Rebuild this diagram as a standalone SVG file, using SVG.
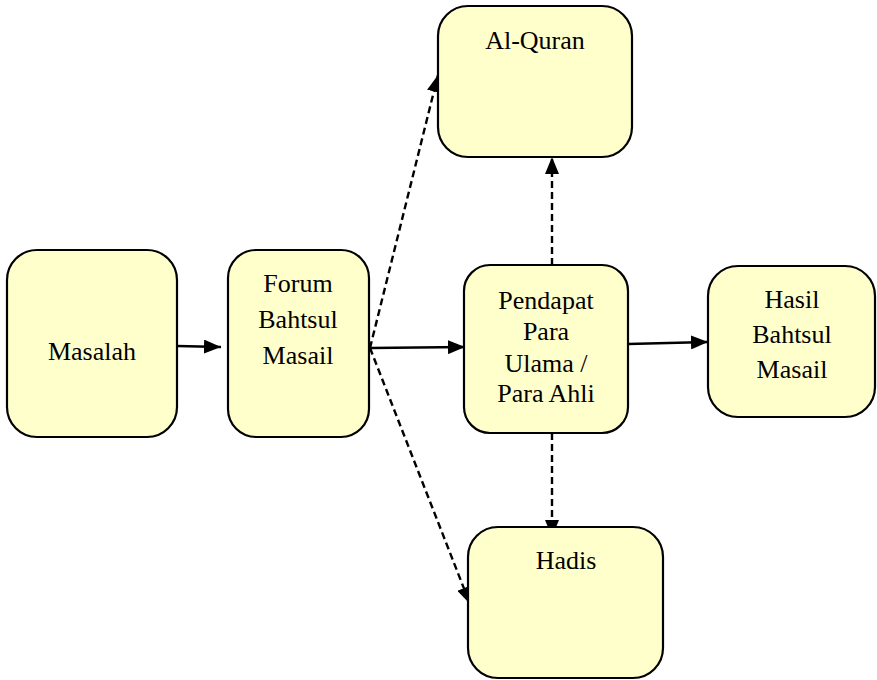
<svg xmlns="http://www.w3.org/2000/svg" width="877" height="680" viewBox="0 0 877 680">
<defs>
<style>
.box{fill:#FFFFCC;stroke:#000;stroke-width:2.2}
text{font-family:'Liberation Serif','Times New Roman',Tinos,'DejaVu Serif',serif;font-size:26px;fill:#000;text-anchor:middle}
.c{stroke:#000;stroke-width:2.4;fill:none}
.d{stroke-dasharray:7,4}
</style>
<marker id="ah" viewBox="0 0 17 14" refX="17" refY="7" markerWidth="17" markerHeight="14" markerUnits="userSpaceOnUse" orient="auto">
<path d="M0,0 L17,7 L0,14 Z" fill="#000"/>
</marker>
</defs>
<rect width="877" height="680" fill="#fff"/>
<g id="connectors">
<line class="c" x1="177" y1="346" x2="221" y2="347" marker-end="url(#ah)"/>
<line class="c" x1="370" y1="348" x2="465" y2="347" marker-end="url(#ah)"/>
<line class="c" x1="628" y1="344" x2="708" y2="342" marker-end="url(#ah)"/>
<line class="c d" x1="370" y1="348" x2="438" y2="75" marker-end="url(#ah)"/>
<line class="c d" x1="370" y1="348" x2="470" y2="604" marker-end="url(#ah)"/>
<line class="c d" x1="552" y1="265" x2="552" y2="157" marker-end="url(#ah)"/>
<line class="c d" x1="552" y1="433" x2="552" y2="537" marker-end="url(#ah)"/>
</g>
<g id="masalah">
<rect class="box" x="7" y="250" width="170" height="187" rx="30"/>
<text x="92" y="360">Masalah</text>
</g>
<g id="forum">
<rect class="box" x="228" y="250" width="141" height="187" rx="28"/>
<text x="298" y="292">Forum</text>
<text x="298" y="328">Bahtsul</text>
<text x="298" y="364">Masail</text>
</g>
<g id="alquran">
<rect class="box" x="438" y="6" width="194" height="151" rx="30"/>
<text x="535" y="49">Al-Quran</text>
</g>
<g id="pendapat">
<rect class="box" x="464" y="265" width="164" height="168" rx="26"/>
<text x="546" y="309">Pendapat</text>
<text x="546" y="340">Para</text>
<text x="546" y="372">Ulama /</text>
<text x="546" y="402">Para Ahli</text>
</g>
<g id="hasil">
<rect class="box" x="708" y="266" width="167" height="151" rx="30"/>
<text x="792" y="308">Hasil</text>
<text x="792" y="343">Bahtsul</text>
<text x="792" y="378">Masail</text>
</g>
<g id="hadis">
<rect class="box" x="468" y="527" width="195" height="151" rx="30"/>
<text x="566" y="569">Hadis</text>
</g>
</svg>
